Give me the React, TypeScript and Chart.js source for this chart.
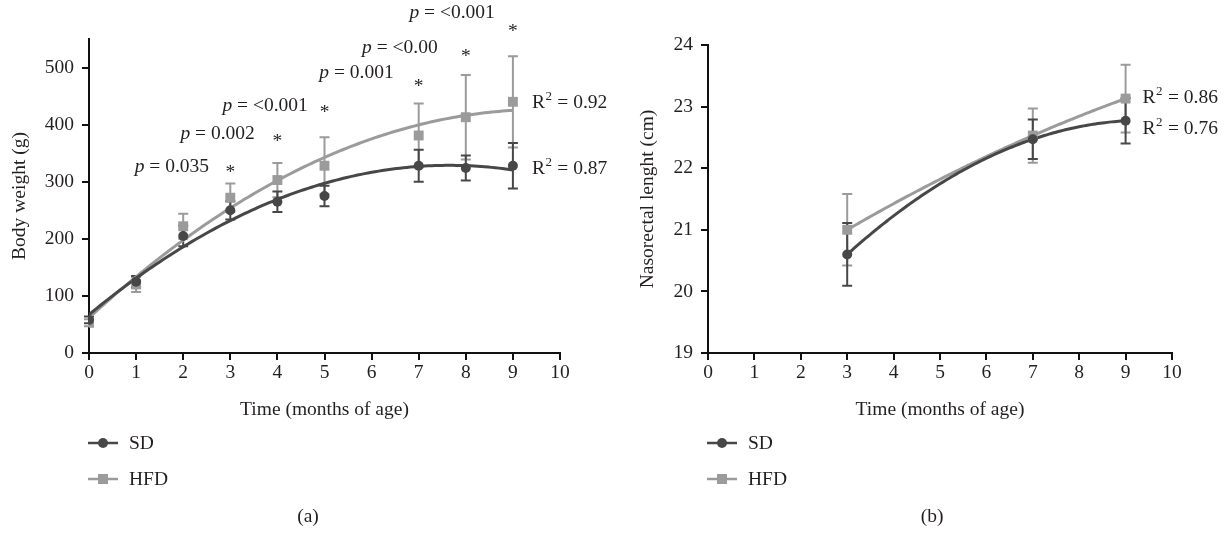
import React, { useEffect, useRef } from "react";
import { Chart, registerables } from "chart.js";
Chart.register(...registerables);

// ---------- data ----------
const months = [0, 1, 2, 3, 4, 5, 7, 8, 9];
const sdWeight = [58, 125, 205, 250, 265, 275, 328, 324, 328];
const sdWeightErr = [6, 10, 18, 16, 18, 18, 28, 22, 40];
const hfdWeight = [53, 120, 222, 272, 303, 328, 381, 413, 440];
const hfdWeightErr = [6, 13, 22, 25, 30, 50, 56, 74, 80];

const lengthMonths = [3, 7, 9];
const sdLength = [20.6, 22.47, 22.77];
const sdLengthErr = [0.51, 0.32, 0.37];
const hfdLength = [21.0, 22.53, 23.13];
const hfdLengthErr = [0.58, 0.44, 0.55];

const xTicks = [0, 1, 2, 3, 4, 5, 6, 7, 8, 9, 10];
const weightTicks = [0, 100, 200, 300, 400, 500];
const lengthTicks = [19, 20, 21, 22, 23, 24];

const pMonths = [3, 4, 5, 7, 8, 9];
const pValues = ["0.035", "0.002", "<0.001", "0.001", "<0.00", "<0.001"];
const starLevels = [323, 377, 427, 473, 526, 570];
const pLabelLevels = [326, 383, 432, 490, 534, 596];
const pLabelCenters = [1.76, 2.73, 3.74, 5.68, 6.6, 7.71];

const weightR2 = ["0.92", "0.87"]; // HFD, SD
const weightR2Levels = [438, 323];
const lengthR2 = ["0.86", "0.76"]; // HFD, SD
const lengthR2Levels = [23.14, 22.64];

const seriesNames = ["SD", "HFD"];

// ---------- style ----------
const FONT = "'Liberation Serif', 'DejaVu Serif', serif";
const FS = 19.5;
const SD_COLOR = "#474747";
const HFD_COLOR = "#9b9b9b";
const TEXT = "#231f20";

function quadFit(xs: number[], ys: number[]) {
  let s0 = xs.length, s1 = 0, s2 = 0, s3 = 0, s4 = 0, t0 = 0, t1 = 0, t2 = 0;
  for (let i = 0; i < xs.length; i++) {
    const x = xs[i], y = ys[i];
    s1 += x; s2 += x * x; s3 += x * x * x; s4 += x * x * x * x;
    t0 += y; t1 += x * y; t2 += x * x * y;
  }
  const det3 = (m: number[][]) =>
    m[0][0] * (m[1][1] * m[2][2] - m[1][2] * m[2][1]) -
    m[0][1] * (m[1][0] * m[2][2] - m[1][2] * m[2][0]) +
    m[0][2] * (m[1][0] * m[2][1] - m[1][1] * m[2][0]);
  const A = [[s0, s1, s2], [s1, s2, s3], [s2, s3, s4]];
  const B = [t0, t1, t2];
  const D = det3(A);
  const coef = [0, 1, 2].map((c) => {
    const M = A.map((row, r) => row.map((v, k) => (k === c ? B[r] : v)));
    return det3(M) / D;
  });
  return (x: number) => coef[0] + coef[1] * x + coef[2] * x * x;
}

function trend(xs: number[], ys: number[]) {
  const f = quadFit(xs, ys);
  const a = xs[0], b = xs[xs.length - 1];
  const pts: { x: number; y: number }[] = [];
  const n = 120;
  for (let i = 0; i <= n; i++) {
    const x = a + ((b - a) * i) / n;
    pts.push({ x, y: f(x) });
  }
  return pts;
}

function drawMarker(ctx: CanvasRenderingContext2D, kind: string, x: number, y: number, color: string) {
  ctx.fillStyle = color;
  ctx.beginPath();
  if (kind === "circle") {
    ctx.arc(x, y, 5, 0, Math.PI * 2);
  } else {
    ctx.rect(x - 5, y - 5, 10, 10);
  }
  ctx.fill();
}

type Cfg = {
  xs: number[];
  sd: number[];
  sdErr: number[];
  hfd: number[];
  hfdErr: number[];
  yMin: number;
  yMax: number;
  yTicks: number[];
  yTitle: string;
  yWidth: number;
  yTitlePad: number;
  top: number;
  right: number;
  r2: string[];
  r2Levels: number[];
  r2Gap: number;
  caption: string;
  captionX: number;
  pvals: boolean;
};

function buildConfig(c: Cfg): any {
  const font = { family: FONT, size: FS };
  const overlay = {
    id: "overlay",
    beforeDatasetsDraw(chart: any) {
      const ctx = chart.ctx;
      const xs = chart.scales.x, ys = chart.scales.y;
      const bars = [
        { vals: c.hfd, err: c.hfdErr, color: HFD_COLOR },
        { vals: c.sd, err: c.sdErr, color: SD_COLOR },
      ];
      ctx.save();
      for (const b of bars) {
        ctx.strokeStyle = b.color;
        ctx.lineWidth = 2;
        for (let i = 0; i < c.xs.length; i++) {
          const px = xs.getPixelForValue(c.xs[i]);
          const y1 = ys.getPixelForValue(b.vals[i] + b.err[i]);
          const y2 = ys.getPixelForValue(b.vals[i] - b.err[i]);
          ctx.beginPath();
          ctx.moveTo(px, y1); ctx.lineTo(px, y2);
          ctx.moveTo(px - 5, y1); ctx.lineTo(px + 5, y1);
          ctx.moveTo(px - 5, y2); ctx.lineTo(px + 5, y2);
          ctx.stroke();
        }
      }
      ctx.restore();
    },
    afterDraw(chart: any) {
      const ctx = chart.ctx;
      const xs = chart.scales.x, ys = chart.scales.y;
      const area = chart.chartArea;
      ctx.save();
      ctx.fillStyle = TEXT;
      ctx.textBaseline = "middle";
      ctx.textAlign = "left";
      // p-values and asterisks
      if (c.pvals) {
        for (let i = 0; i < pMonths.length; i++) {
          const sx = xs.getPixelForValue(pMonths[i]);
          const sy = ys.getPixelForValue(starLevels[i]);
          ctx.font = `${FS}px ${FONT}`;
          ctx.textAlign = "center";
          ctx.fillText("*", sx, sy + 4);
          ctx.textAlign = "left";
          const cx = xs.getPixelForValue(pLabelCenters[i]);
          const py = ys.getPixelForValue(pLabelLevels[i]);
          ctx.font = `italic ${FS}px ${FONT}`;
          const w1 = ctx.measureText("p").width;
          ctx.font = `${FS}px ${FONT}`;
          const rest = " = " + pValues[i];
          const w2 = ctx.measureText(rest).width;
          const x0 = cx - (w1 + w2) / 2;
          ctx.font = `italic ${FS}px ${FONT}`;
          ctx.fillText("p", x0, py);
          ctx.font = `${FS}px ${FONT}`;
          ctx.fillText(rest, x0 + w1, py);
        }
      }
      // R² labels
      const lastX = xs.getPixelForValue(c.xs[c.xs.length - 1]) + c.r2Gap;
      for (let i = 0; i < c.r2.length; i++) {
        const y = ys.getPixelForValue(c.r2Levels[i]);
        ctx.font = `${FS}px ${FONT}`;
        ctx.fillText("R", lastX, y);
        const wR = ctx.measureText("R").width;
        ctx.font = `${Math.round(FS * 0.68)}px ${FONT}`;
        ctx.fillText("2", lastX + wR + 0.5, y - 6);
        const w2 = ctx.measureText("2").width;
        ctx.font = `${FS}px ${FONT}`;
        ctx.fillText(" = " + c.r2[i], lastX + wR + w2 + 1, y);
      }
      // legend
      const lx = area.left - 1;
      const legendY = [443, 479];
      const cols = [SD_COLOR, HFD_COLOR];
      const kinds = ["circle", "rect"];
      for (let i = 0; i < 2; i++) {
        const y = legendY[i];
        ctx.strokeStyle = cols[i];
        ctx.lineWidth = 2.5;
        ctx.beginPath();
        ctx.moveTo(lx, y); ctx.lineTo(lx + 30, y);
        ctx.stroke();
        drawMarker(ctx, kinds[i], lx + 15, y, cols[i]);
        ctx.fillStyle = TEXT;
        ctx.font = `${FS}px ${FONT}`;
        ctx.textAlign = "left";
        ctx.fillText(seriesNames[i], lx + 41, y + 1);
      }
      // caption
      ctx.textAlign = "center";
      ctx.fillText(c.caption, c.captionX, 517);
      ctx.restore();
    },
  };

  return {
    type: "scatter",
    data: {
      datasets: [
        {
          label: "SD",
          data: c.xs.map((x, i) => ({ x, y: c.sd[i] })),
          pointStyle: "circle",
          pointRadius: 5,
          pointBackgroundColor: SD_COLOR,
          pointBorderWidth: 0,
          showLine: false,
          order: 0,
        },
        {
          label: "HFD",
          data: c.xs.map((x, i) => ({ x, y: c.hfd[i] })),
          pointStyle: "rect",
          pointRadius: 7,
          pointBackgroundColor: HFD_COLOR,
          pointBorderWidth: 0,
          showLine: false,
          order: 1,
        },
        {
          label: "SD trend",
          data: trend(c.xs, c.sd),
          showLine: true,
          pointRadius: 0,
          borderColor: SD_COLOR,
          borderWidth: 3,
          order: 2,
        },
        {
          label: "HFD trend",
          data: trend(c.xs, c.hfd),
          showLine: true,
          pointRadius: 0,
          borderColor: HFD_COLOR,
          borderWidth: 3,
          order: 3,
        },
      ],
    },
    options: {
      responsive: false,
      devicePixelRatio: 1,
      animation: false,
      layout: { padding: { left: 0, right: c.right, top: c.top, bottom: 110 } },
      plugins: { legend: { display: false }, tooltip: { enabled: false } },
      scales: {
        x: {
          type: "linear",
          min: 0,
          max: 10,
          afterBuildTicks: (s: any) => {
            s.ticks = xTicks.map((v) => ({ value: v }));
          },
          afterFit: (s: any) => {
            s.height = 70;
          },
          grid: { drawOnChartArea: false, drawTicks: true, tickLength: 7, color: "#111", lineWidth: 2 },
          border: { color: "#111", width: 2 },
          ticks: { font, color: TEXT, padding: 1, maxRotation: 0, autoSkip: false },
          title: { display: true, text: "Time (months of age)", font, color: TEXT, padding: { top: 0, bottom: 1 } },
        },
        y: {
          type: "linear",
          min: c.yMin,
          max: c.yMax,
          afterBuildTicks: (s: any) => {
            s.ticks = c.yTicks.map((v) => ({ value: v }));
          },
          afterFit: (s: any) => {
            s.width = c.yWidth;
          },
          grid: { drawOnChartArea: false, drawTicks: true, tickLength: 7, color: "#111", lineWidth: 2 },
          border: { color: "#111", width: 2 },
          ticks: { font, color: TEXT, padding: 8 },
          title: { display: true, text: c.yTitle, font, color: TEXT, padding: { top: c.yTitlePad, bottom: 0 } },
        },
      },
    },
    plugins: [overlay],
  };
}

const leftCfg: Cfg = {
  xs: months,
  sd: sdWeight,
  sdErr: sdWeightErr,
  hfd: hfdWeight,
  hfdErr: hfdWeightErr,
  yMin: 0,
  yMax: 550,
  yTicks: weightTicks,
  yTitle: "Body weight (g)",
  yWidth: 89,
  yTitlePad: 8,
  top: 39,
  right: 54,
  r2: weightR2,
  r2Levels: weightR2Levels,
  r2Gap: 19,
  caption: "(a)",
  captionX: 308,
  pvals: true,
};

const rightCfg: Cfg = {
  xs: lengthMonths,
  sd: sdLength,
  sdErr: sdLengthErr,
  hfd: hfdLength,
  hfdErr: hfdLengthErr,
  yMin: 19,
  yMax: 24,
  yTicks: lengthTicks,
  yTitle: "Nasorectal lenght (cm)",
  yWidth: 94,
  yTitlePad: 22,
  top: 45,
  right: 57,
  r2: lengthR2,
  r2Levels: lengthR2Levels,
  r2Gap: 17,
  caption: "(b)",
  captionX: 318,
  pvals: false,
};

function Panel({ cfg, width }: { cfg: Cfg; width: number }) {
  const ref = useRef<HTMLCanvasElement>(null);
  useEffect(() => {
    if (!ref.current) return;
    const chart = new Chart(ref.current, buildConfig(cfg));
    return () => chart.destroy();
  }, []);
  return <canvas ref={ref} width={width} height={533} style={{ display: "block", width, height: 533 }} />;
}

export default function App() {
  return (
    <div style={{ position: "fixed", left: 0, top: 0, width: 1229, height: 533, display: "flex", background: "#fff" }}>
      <Panel cfg={leftCfg} width={614} />
      <Panel cfg={rightCfg} width={615} />
    </div>
  );
}
